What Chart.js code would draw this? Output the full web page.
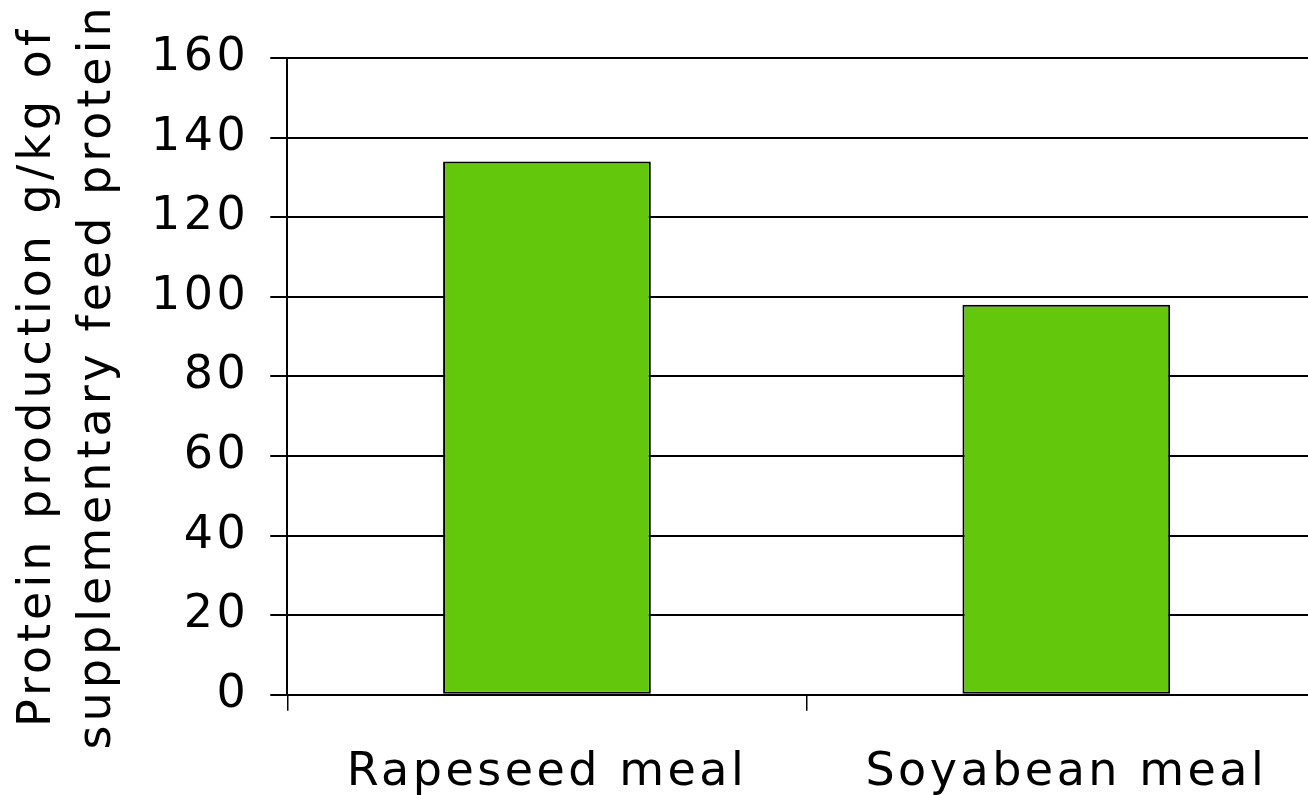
<!DOCTYPE html>
<html>
<head>
<meta charset="utf-8">
<script src="https://cdn.jsdelivr.net/npm/chart.js@4"></script>
<style>
html,body{margin:0;padding:0;background:#fff;overflow:hidden;}
#wrap{width:1326px;height:795px;position:relative;}
</style>
</head>
<body>
<div id="wrap"><canvas id="c"></canvas></div>
<script>
const categories = ["Rapeseed meal", "Soyabean meal"];
const proteinProduction = [134, 98];
const yTitle = ["Protein production g/kg of", "supplementary feed protein"];
const yMin = 0, yMax = 160, yStep = 20;

const FONT = "'DejaVu Sans', Verdana, sans-serif";
const TICK_LS = '3.5px';
const TITLE_LS = '4px';

const spacing = {
  id: 'letterSpacing',
  beforeUpdate(c) { c.ctx.letterSpacing = TICK_LS; },
  beforeLayout(c) { c.ctx.letterSpacing = TICK_LS; },
  beforeDraw(c) { c.ctx.letterSpacing = TICK_LS; },
  afterUpdate(c) {
    const s = c.scales.y;
    if (s && !s._lsWrapped) {
      const orig = s.drawTitle.bind(s);
      s.drawTitle = function () {
        const ctx = this.ctx;
        const prev = ctx.letterSpacing;
        ctx.letterSpacing = TITLE_LS;
        orig();
        ctx.letterSpacing = prev;
      };
      s._lsWrapped = true;
    }
  }
};

new Chart(document.getElementById('c'), {
  type: 'bar',
  plugins: [spacing],
  data: {
    labels: categories,
    datasets: [{
      data: proteinProduction,
      backgroundColor: '#63c70c',
      borderColor: '#000',
      borderWidth: 2,
      borderSkipped: false,
      barPercentage: 0.4,
      categoryPercentage: 1.0
    }]
  },
  options: {
    responsive: true,
    maintainAspectRatio: false,
    animation: false,
    layout: { padding: { top: 58, right: 0, left: 2, bottom: -41 } },
    plugins: { legend: { display: false }, tooltip: { enabled: false } },
    scales: {
      x: {
        grid: { drawOnChartArea: false, color: '#000', lineWidth: 1.5, tickLength: 16, offset: true },
        border: { color: '#000', width: 2 },
        ticks: { color: '#000', font: { family: FONT, size: 46 }, padding: 35 }
      },
      y: {
        min: yMin, max: yMax,
        grid: { color: '#000', lineWidth: 2, tickLength: 17 },
        border: { color: '#000', width: 2 },
        ticks: { stepSize: yStep, color: '#000', font: { family: FONT, size: 46 }, padding: 21 },
        title: { display: true, text: yTitle, color: '#000', font: { family: FONT, size: 46, lineHeight: 1.304 }, padding: { top: 6, bottom: 2 } }
      }
    }
  }
});
</script>
</body>
</html>
